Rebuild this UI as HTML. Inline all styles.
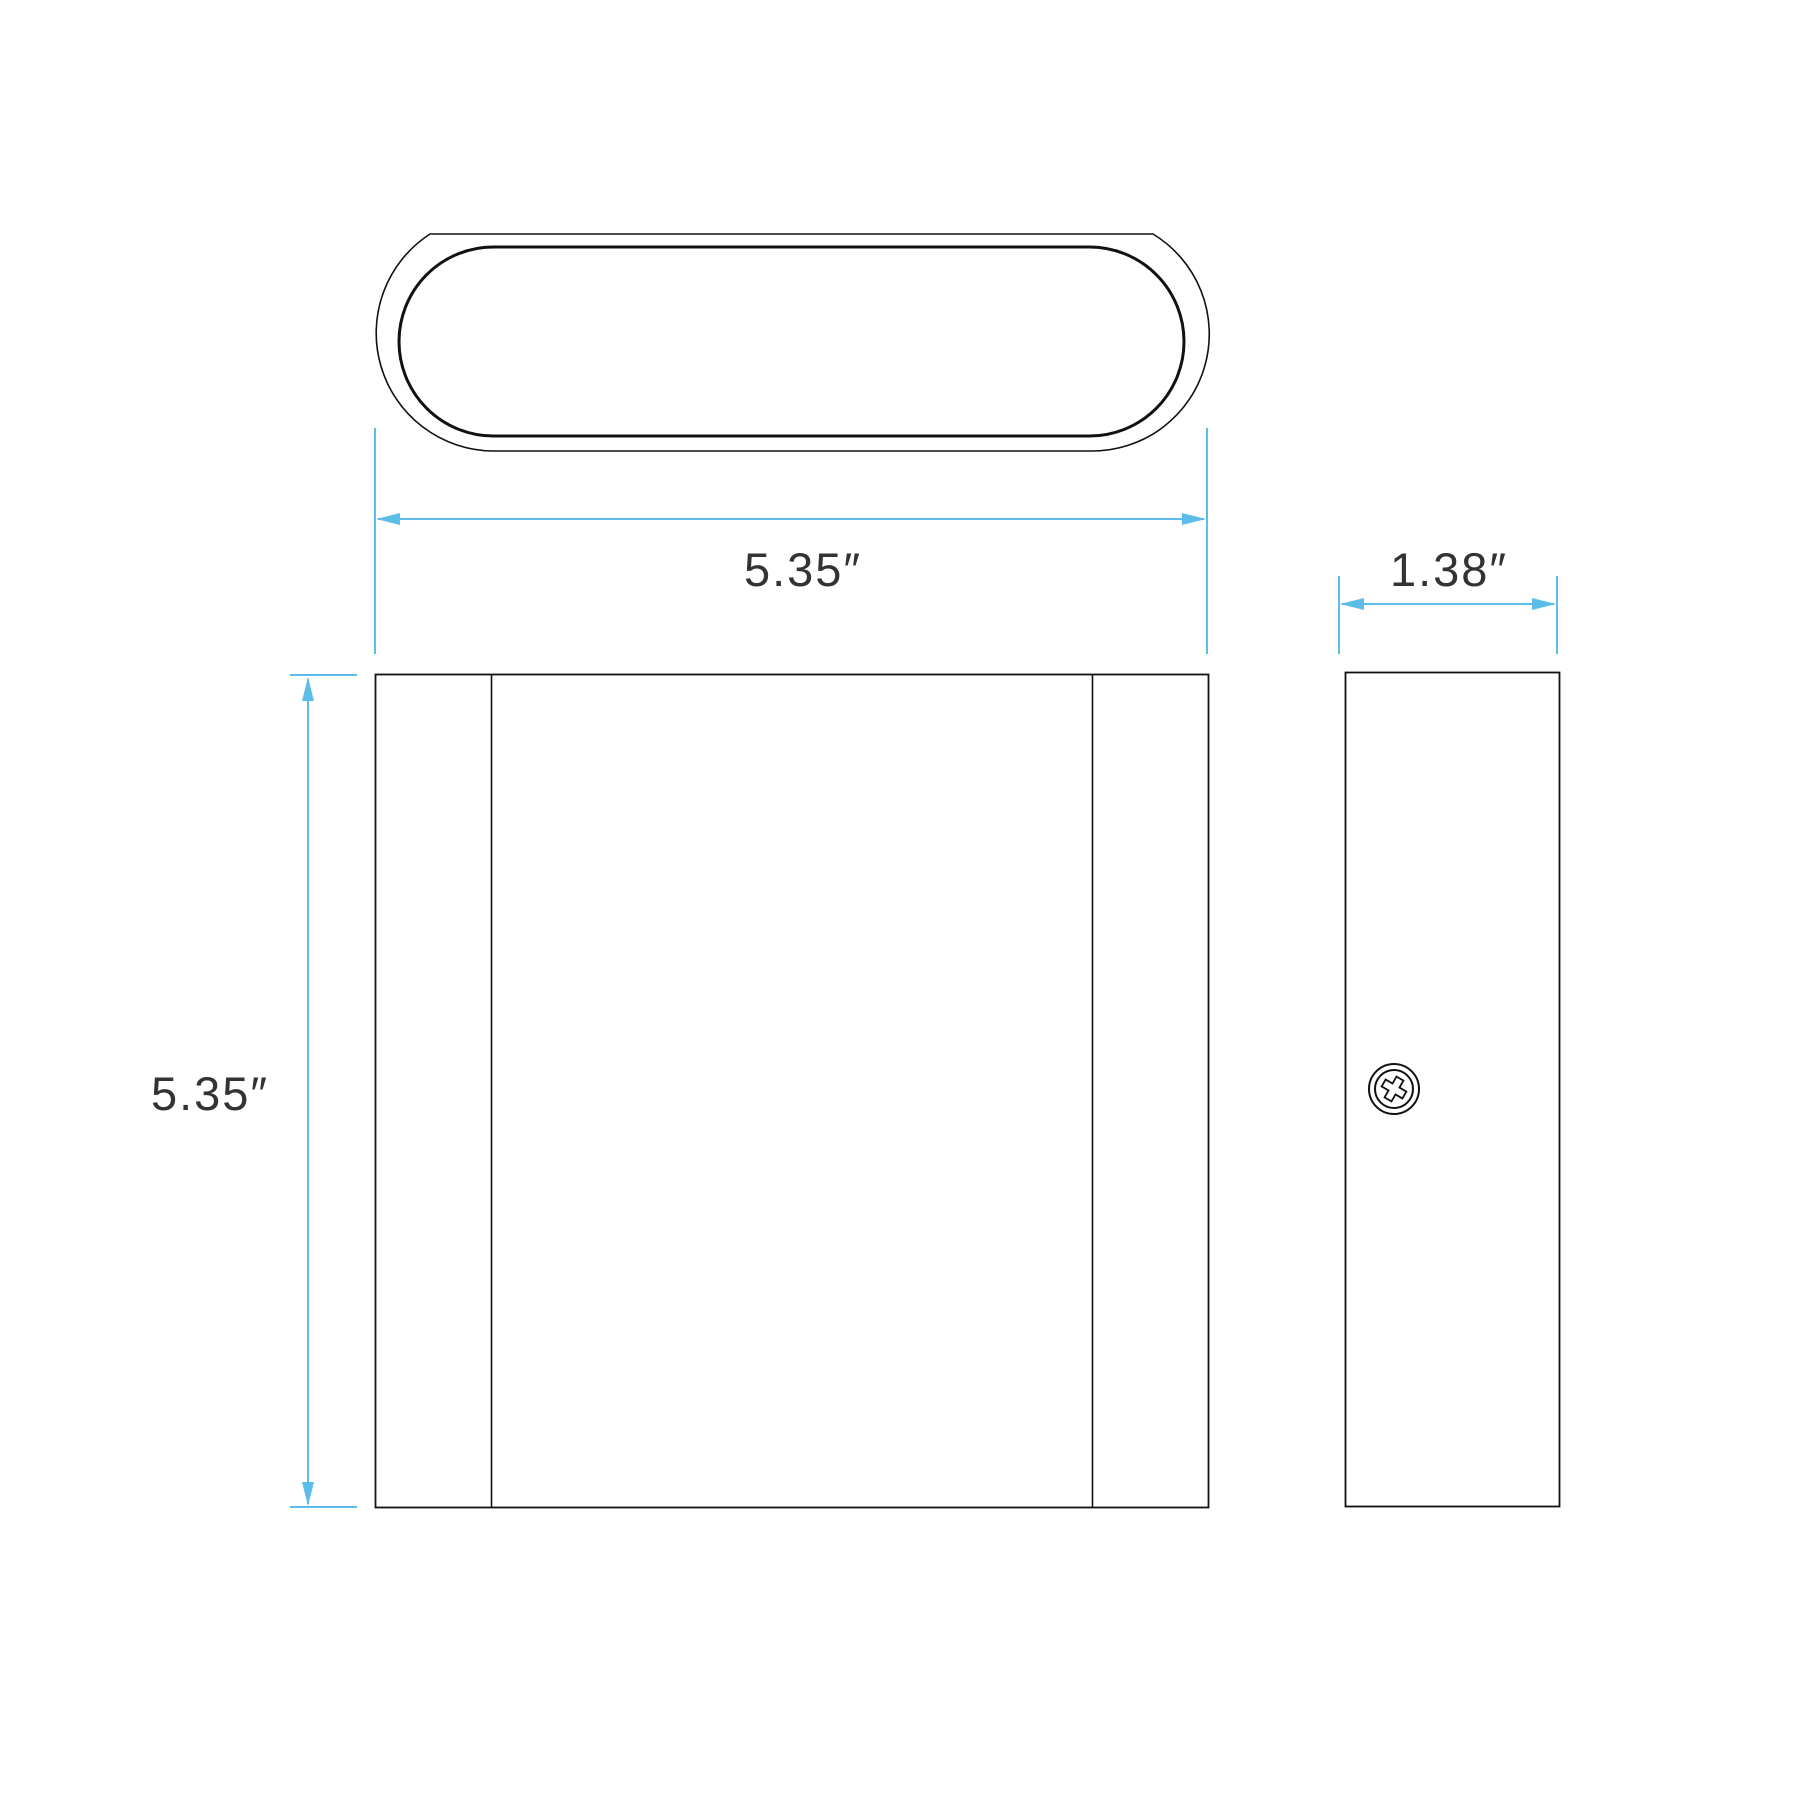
<!DOCTYPE html>
<html><head><meta charset="utf-8"><style>
html,body{margin:0;padding:0;background:#fff;}
svg{display:block;}
text{font-family:"Liberation Sans",sans-serif;fill:#333;font-size:47px;letter-spacing:2px;}
</style></head><body>
<svg width="1800" height="1800" viewBox="0 0 1800 1800" xmlns="http://www.w3.org/2000/svg">
<g fill="none" stroke="#111">
<path d="M430,234 L1153,234 A117,117 0 0 1 1092,451 L493,451 A118,118 0 0 1 430,234 Z" stroke-width="1.6"/>
<rect x="399" y="247" width="785" height="189" rx="94.5" ry="94.5" stroke-width="3"/>
<rect x="375.5" y="674.5" width="833" height="833" stroke-width="1.8"/>
<line x1="491.5" y1="674" x2="491.5" y2="1508" stroke-width="1.6"/>
<line x1="1092.5" y1="674" x2="1092.5" y2="1508" stroke-width="1.6"/>
<rect x="1345.5" y="672.5" width="214" height="834" stroke-width="1.8"/>
<circle cx="1394" cy="1089" r="25" stroke-width="2"/>
<circle cx="1394" cy="1089" r="19" stroke-width="2"/>
<path d="M1390,1077 L1398,1077 L1398,1085 L1406,1085 L1406,1093 L1398,1093 L1398,1101 L1390,1101 L1390,1093 L1382,1093 L1382,1085 L1390,1085 Z" transform="rotate(30 1394 1089)" stroke-width="1.8"/>
</g>
<g stroke="#5bbde8" stroke-width="2" fill="none">
<line x1="375" y1="428" x2="375" y2="654"/>
<line x1="1207" y1="428" x2="1207" y2="654"/>
<line x1="378" y1="519" x2="1204" y2="519"/>
<line x1="1339" y1="576" x2="1339" y2="654"/>
<line x1="1557" y1="576" x2="1557" y2="654"/>
<line x1="1342" y1="604" x2="1554" y2="604"/>
<line x1="290" y1="675" x2="357" y2="675"/>
<line x1="290" y1="1507" x2="357" y2="1507"/>
<line x1="308" y1="679" x2="308" y2="1504"/>
</g>
<g fill="#5bbde8">
<polygon points="376,519 400,513 400,525"/>
<polygon points="1206,519 1182,513 1182,525"/>
<polygon points="1340,604 1364,598 1364,610"/>
<polygon points="1556,604 1532,598 1532,610"/>
<polygon points="308,677 302,701 314,701"/>
<polygon points="308,1506 302,1482 314,1482"/>
</g>
<text x="803" y="586" text-anchor="middle">5.35″</text>
<text x="1449" y="586" text-anchor="middle">1.38″</text>
<text x="210" y="1110" text-anchor="middle">5.35″</text>
</svg>
</body></html>
